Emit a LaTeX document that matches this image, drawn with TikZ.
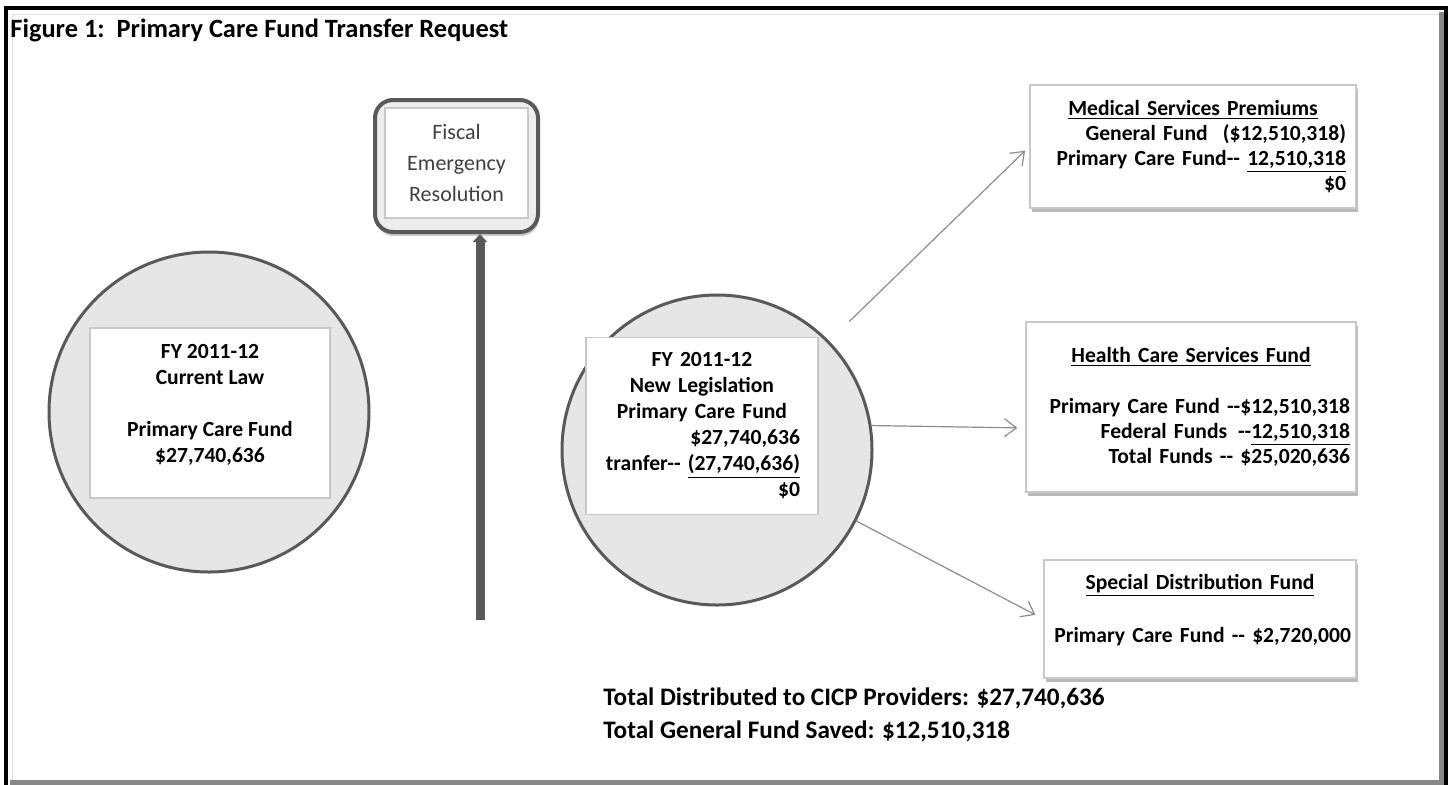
\documentclass[tikz,border=0pt]{standalone}
\usepackage{fontspec}
\setmainfont{Carlito}
\usetikzlibrary{arrows.meta,shadows}
\definecolor{rimgray}{HTML}{595959}
\definecolor{fillgray}{HTML}{E6E6E6}
\definecolor{edgegray}{HTML}{C8C8C8}
\definecolor{linkgray}{HTML}{8C8C8C}
\definecolor{textgray}{HTML}{404040}
\begin{document}
\begin{tikzpicture}
[   x=0.5pt,y=-0.5pt,
    fundcircle/.style={circle,draw=rimgray,line width=1.5pt,fill=fillgray,minimum size=#1},
    innerbox/.style={draw=edgegray,fill=white,line width=0.6pt,font=\bfseries\fontsize{10.8}{13}\selectfont,align=center},
    fundbox/.style={draw=edgegray,fill=white,line width=0.6pt,align=right,
        drop shadow={shadow xshift=1pt,shadow yshift=-2pt,opacity=0.5,fill=black!55},
        font=\bfseries\fontsize{10.8}{12.5}\selectfont},
    link/.style={draw=linkgray,line width=0.6pt,-{Straight Barb[length=6pt,width=9pt]}},
    totaltext/.style={anchor=base west,inner sep=0pt,font=\bfseries\fontsize{12.6}{14}\selectfont},
]
    \useasboundingbox (0,0) rectangle (1452,784);
    % frame
    \draw[line width=2pt] (6,8) rectangle (1446,795);
    \draw[black!12,line width=0.5pt] (12,14) rectangle (1439,781);
    \draw[black!47,line width=2.5pt] (1441.5,12) -- (1441.5,782) -- (10,782);
    \node[totaltext,font=\bfseries\fontsize{13.2}{14}\selectfont] (title) at (10,37) {Figure 1:\ \ Primary Care Fund Transfer Request};

    % current law
    \node[fundcircle=160pt] (cl) at (209,412) {};
    \node[innerbox,minimum width=120pt,minimum height=85pt] (clbox) at (210,413)
        {FY 2011-12\\Current Law\\[13pt]Primary Care Fund\\\$27,740,636\\[-3pt]\mbox{}};

    % new legislation
    \node[fundcircle=155pt] (nl) at (717,450) {};
    \node[innerbox,text width=98pt,inner xsep=9pt,minimum height=88.5pt] (nlbox) at (702,426)
        {FY 2011-12\\New Legislation\\Primary Care Fund\\\hfill\$27,740,636\\
         \hfill tranfer-{}- \underline{(27,740,636)}\\\hfill\$0};

    % fiscal emergency resolution
    \node[draw=rimgray,line width=2pt,fill=black!7,rounded corners=9pt,minimum width=81.5pt,minimum height=66pt,
          drop shadow={shadow xshift=0.5pt,shadow yshift=-2pt,opacity=0.4}] (res) at (456.5,166) {};
    \node[draw=edgegray,fill=white,line width=0.6pt,minimum width=71.5pt,minimum height=55pt,align=center,
          text=textgray,font=\fontsize{11}{15.5}\selectfont] (resin) at (456.5,163)
        {Fiscal\\Emergency\\Resolution};
    \coordinate (base) at (480,620);
    \draw[rimgray,line width=4.5pt,-{Triangle[length=4pt,width=7pt]}] (base) -- (base |- res.south);

    % receiving funds
    \node[fundbox,text width=153pt,inner xsep=5pt,minimum height=61.5pt] (msp) at (1193,146.5)
        {\hfill\underline{Medical Services Premiums}\hfill\mbox{}\\
         General Fund\hspace{0.7em}(\$12,510,318)\\
         Primary Care Fund-{}- \underline{12,510,318}\\
         \$0};
    \node[fundbox,text width=159pt,inner xsep=3pt,minimum height=85pt] (hcs) at (1191,407)
        {\hfill\underline{Health Care Services Fund}\hfill\mbox{}\\[13pt]
         Primary Care Fund -{}-\$12,510,318\\
         Federal Funds\hspace{0.5em}-{}-\underline{12,510,318}\\
         Total Funds -{}- \$25,020,636};
    \node[fundbox,text width=151pt,inner xsep=2.5pt,minimum height=59pt] (sdf) at (1200,619)
        {\hfill\underline{Special Distribution Fund}\hfill\mbox{}\\[14pt]
         Primary Care Fund -{}- \$2,720,000\\[-2pt]\mbox{}};

    \draw[link,shorten <=14pt,shorten >=3pt] (nl) -- (msp.west);
    \draw[link,shorten >=4pt] (nl.9) -- ([yshift=-10.5pt]hcs.west);
    \draw[link,shorten >=4.5pt] (nl.-27) -- (sdf.west);

    % totals
    \node[totaltext] (dist) at (603,705) {Total Distributed to CICP Providers: \$27,740,636};
    \node[totaltext] (saved) at (603,738) {Total General Fund Saved: \$12,510,318};
\end{tikzpicture}
\end{document}
